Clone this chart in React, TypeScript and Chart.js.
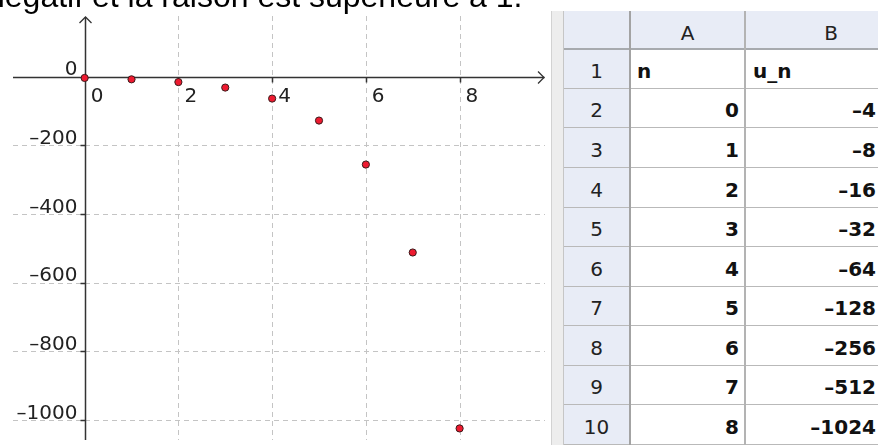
import React, { useEffect, useRef } from 'react';
import { Chart, registerables } from 'chart.js';

Chart.register(...registerables);

// ---- data ----
const nValues = [0, 1, 2, 3, 4, 5, 6, 7, 8];
const uValues = [-4, -8, -16, -32, -64, -128, -256, -512, -1024];
const xTickValues = [0, 2, 4, 6, 8];
const yTickValues = [0, -200, -400, -600, -800, -1000];
const columnLabels = ['A', 'B'];
const headerCells = ['n', 'u_n'];
const topText = 'négatif et la raison est supérieure à 1.';

const fmt = (v: number) => String(v).replace('-', '\u2013');

// ---- geometry (page px) ----
const CANVAS_LEFT = 8;
const CANVAS_TOP = 11;
const CANVAS_W = 542;
const CANVAS_H = 434;
const X_MIN = -1.5288;
const X_MAX = 9.822;
const Y_MIN = -1057.7;
const Y_MAX = 176.3;

const HDR_TOP = 11;
const ROW_TOP = 49.3;
const ROW_H = 39.57;
const X_BAND = 551;
const X_ROWHDR = 563;
const X_A = 630;
const X_B = 745;
const X_B_END = 917;
const HDR_BG = '#e8ecf6';

const axesPlugin = {
  id: 'geoAxes',
  beforeDatasetsDraw(chart: any) {
    const { ctx, chartArea: a, scales } = chart;
    const xs = scales.x;
    const ys = scales.y;
    const x0 = Math.round(xs.getPixelForValue(0)) + 0.5;
    const y0 = Math.round(ys.getPixelForValue(0)) + 0.5;
    ctx.save();
    // grid
    ctx.strokeStyle = '#c4c4c4';
    ctx.lineWidth = 1;
    ctx.setLineDash([5, 4]);
    for (const v of xTickValues) {
      if (v === 0) continue;
      const px = Math.round(xs.getPixelForValue(v)) + 0.5;
      ctx.beginPath();
      ctx.moveTo(px, a.top);
      ctx.lineTo(px, a.bottom);
      ctx.stroke();
    }
    for (const v of yTickValues) {
      if (v === 0) continue;
      const py = Math.round(ys.getPixelForValue(v)) + 0.5;
      ctx.beginPath();
      ctx.moveTo(a.left, py);
      ctx.lineTo(a.right, py);
      ctx.stroke();
    }
    ctx.setLineDash([]);
    // axes
    ctx.strokeStyle = '#333';
    ctx.lineWidth = 1.5;
    ctx.beginPath();
    ctx.moveTo(a.left, y0);
    ctx.lineTo(a.right - 0.5, y0);
    ctx.moveTo(x0, a.bottom);
    ctx.lineTo(x0, a.top + 1);
    ctx.stroke();
    // arrows
    ctx.lineWidth = 1.3;
    ctx.beginPath();
    ctx.moveTo(a.right - 7, y0 - 6);
    ctx.lineTo(a.right - 1, y0);
    ctx.lineTo(a.right - 7, y0 + 6);
    ctx.moveTo(x0 - 6, a.top + 7);
    ctx.lineTo(x0, a.top + 1);
    ctx.lineTo(x0 + 6, a.top + 7);
    ctx.stroke();
    // tick marks
    ctx.lineWidth = 1.5;
    ctx.beginPath();
    for (const v of xTickValues) {
      if (v === 0) continue;
      const px = Math.round(xs.getPixelForValue(v)) + 0.5;
      ctx.moveTo(px, y0);
      ctx.lineTo(px, y0 + 5);
    }
    for (const v of yTickValues) {
      if (v === 0) continue;
      const py = Math.round(ys.getPixelForValue(v)) + 0.5;
      ctx.moveTo(x0, py);
      ctx.lineTo(x0 - 5, py);
    }
    ctx.stroke();
    // labels
    ctx.fillStyle = '#222';
    ctx.font = '20px "DejaVu Sans"';
    ctx.textBaseline = 'alphabetic';
    ctx.textAlign = 'left';
    for (const v of xTickValues) {
      const px = xs.getPixelForValue(v);
      ctx.fillText(fmt(v), px + 6, y0 + 24.5);
    }
    ctx.textAlign = 'right';
    for (const v of yTickValues) {
      const py = ys.getPixelForValue(v);
      ctx.fillText(fmt(v), x0 - 8, py - 1.5);
    }
    ctx.restore();
  },
};

function Sheet() {
  const els: React.ReactNode[] = [];
  const H = 445;
  // left band
  els.push(
    <div key="band" style={{ position: 'absolute', left: X_BAND, top: HDR_TOP, width: X_ROWHDR - X_BAND, height: H - HDR_TOP, background: '#ededed', borderLeft: '1px solid #d2d2d2', boxSizing: 'border-box' }} />
  );
  // header background
  els.push(
    <div key="hdrbg" style={{ position: 'absolute', left: X_ROWHDR, top: HDR_TOP, width: 878 - X_ROWHDR, height: ROW_TOP - HDR_TOP, background: HDR_BG }} />
  );
  // row header background
  els.push(
    <div key="rowbg" style={{ position: 'absolute', left: X_ROWHDR, top: ROW_TOP, width: X_A - X_ROWHDR, height: H - ROW_TOP, background: HDR_BG }} />
  );
  const rowsCount = nValues.length + 1;
  // horizontal lines
  for (let r = 1; r <= rowsCount; r++) {
    const y = ROW_TOP + r * ROW_H;
    els.push(
      <div key={'h' + r} style={{ position: 'absolute', left: X_ROWHDR, top: Math.round(y) - 1, width: 878 - X_ROWHDR, height: 1, background: '#b9b9b9' }} />
    );
  }
  els.push(
    <div key="hdrline" style={{ position: 'absolute', left: X_ROWHDR, top: Math.round(ROW_TOP) - 1, width: 878 - X_ROWHDR, height: 2, background: '#a7aaae' }} />
  );
  // vertical lines
  els.push(<div key="v0" style={{ position: 'absolute', left: X_ROWHDR, top: HDR_TOP, width: 1, height: H - HDR_TOP, background: '#c6c6c6' }} />);
  els.push(<div key="v1" style={{ position: 'absolute', left: X_A - 1, top: HDR_TOP, width: 2, height: H - HDR_TOP, background: '#a3a3a3' }} />);
  els.push(<div key="v2" style={{ position: 'absolute', left: X_B - 1, top: HDR_TOP, width: 2, height: H - HDR_TOP, background: '#b3b3b3' }} />);

  const txt = (key: string, left: number, width: number, top: number, h: number, content: string, align: 'left' | 'right' | 'center', bold: boolean, pad = 0) => (
    <div
      key={key}
      style={{
        position: 'absolute',
        left,
        top,
        width,
        height: h,
        lineHeight: h + 'px',
        textAlign: align,
        fontFamily: '"DejaVu Sans"',
        fontSize: 20,
        fontWeight: bold ? 'bold' : 'normal',
        color: bold ? '#111' : '#222',
        paddingLeft: align === 'left' ? pad : 0,
        paddingRight: align === 'right' ? pad : 0,
        boxSizing: 'border-box',
        whiteSpace: 'nowrap',
      }}
    >
      {content}
    </div>
  );

  // column headers
  const hdrH = ROW_TOP - HDR_TOP;
  els.push(txt('cA', X_A, X_B - X_A, HDR_TOP + 3, hdrH, columnLabels[0], 'center', false));
  els.push(txt('cB', X_B, X_B_END - X_B, HDR_TOP + 3, hdrH, columnLabels[1], 'center', false));

  for (let r = 0; r < rowsCount; r++) {
    const top = ROW_TOP + r * ROW_H + 2.5;
    els.push(txt('rn' + r, X_ROWHDR, X_A - X_ROWHDR, top, ROW_H, String(r + 1), 'center', false));
    if (r === 0) {
      els.push(txt('a0', X_A, X_B - X_A, top, ROW_H, headerCells[0], 'left', true, 7));
      els.push(txt('b0', X_B, 300, top, ROW_H, headerCells[1], 'left', true, 8));
    } else {
      els.push(txt('a' + r, X_A, X_B - X_A, top, ROW_H, fmt(nValues[r - 1]), 'right', true, 6));
      els.push(txt('b' + r, X_B, 876 - X_B, top, ROW_H, fmt(uValues[r - 1]), 'right', true, 0));
    }
  }
  return <>{els}</>;
}

export default function App() {
  const ref = useRef<HTMLCanvasElement>(null);
  useEffect(() => {
    const chart = new Chart(ref.current!, {
      type: 'scatter',
      data: {
        datasets: [
          {
            data: nValues.map((n, i) => ({ x: n, y: uValues[i] })),
            pointRadius: 3.6,
            pointBackgroundColor: '#ee1a30',
            pointBorderColor: '#3a1a1a',
            pointBorderWidth: 1,
            showLine: false,
          },
        ],
      },
      options: {
        animation: false,
        responsive: false,
        devicePixelRatio: 1,
        layout: { padding: 0 },
        plugins: { legend: { display: false }, tooltip: { enabled: false } },
        scales: {
          x: { type: 'linear', min: X_MIN, max: X_MAX, display: false },
          y: { type: 'linear', min: Y_MIN, max: Y_MAX, display: false },
        },
      },
      plugins: [axesPlugin],
    });
    return () => chart.destroy();
  }, []);

  return (
    <div style={{ position: 'fixed', left: 0, top: 0, width: 878, height: 445, overflow: 'hidden', background: '#fff' }}>
      <canvas ref={ref} width={CANVAS_W} height={CANVAS_H} style={{ position: 'absolute', left: CANVAS_LEFT, top: CANVAS_TOP, width: CANVAS_W, height: CANVAS_H }} />
      <div style={{ position: 'absolute', left: -13, top: -20, fontFamily: '"Liberation Sans", Arial, sans-serif', fontSize: 32, lineHeight: '32px', whiteSpace: 'nowrap', color: '#000' }}>
        {topText}
      </div>
      <Sheet />
    </div>
  );
}
